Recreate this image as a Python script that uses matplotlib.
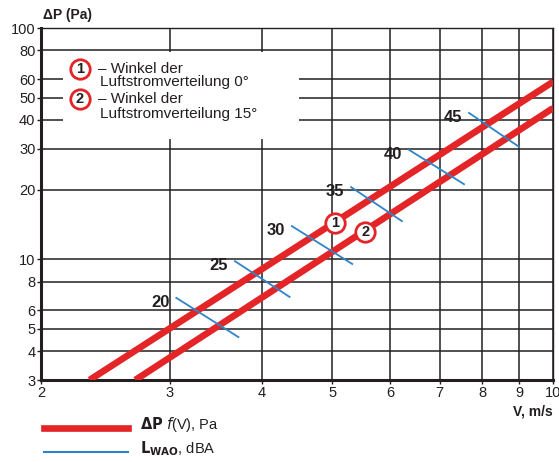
import numpy as np
import matplotlib.pyplot as plt
from matplotlib.lines import Line2D
from matplotlib.patches import Rectangle

plt.rcParams['font.family'] = ['Liberation Sans', 'DejaVu Sans']

# pressure drop curves (V in m/s, dP in Pa)
v_curve1 = [2.33, 10.0]
dp_curve1 = [3.0, 58.5]
v_curve2 = [2.69, 10.0]
dp_curve2 = [3.0, 45.0]

# sound level isolines L_WAO (dBA)
lw_labels = ['20', '25', '30', '35', '40', '45']
lw_v_start = [3.06, 3.68, 4.40, 5.30, 6.36, 7.68]
lw_dp_start = [6.8, 9.8, 13.9, 20.5, 29.7, 42.9]
lw_v_end = [3.72, 4.37, 5.32, 6.22, 7.56, 8.99]
lw_dp_end = [4.6, 6.86, 9.53, 14.6, 21.1, 30.6]

# curve markers
mark_labels = ['1', '2']
mark_v = [5.04, 5.54]
mark_dp = [14.3, 13.1]

xticks = [2, 3, 4, 5, 6, 7, 8, 9, 10]
yticks = [3, 4, 5, 6, 8, 10, 20, 30, 40, 50, 60, 80, 100]

red = '#e42528'
blue = '#2f84c6'
dark = '#231f20'

fig = plt.figure(figsize=(5.59, 4.62), dpi=100)
ax = fig.add_axes([41/559, 82/462, 512/559, 352/462])
ax.set_xscale('log')
ax.set_yscale('log')
ax.set_xlim(2, 10)
ax.set_ylim(3, 100)
ax.set_xticks(xticks)
ax.set_xticklabels([str(t) for t in xticks])
ax.set_yticks(yticks)
ax.set_yticklabels([str(t) for t in yticks])
ax.minorticks_off()
ax.tick_params(axis='both', labelsize=10.5, length=3, width=1, color=dark,
               labelcolor=dark, pad=1)
ax.grid(True, color=dark, lw=1.1)
ax.set_axisbelow(True)
for s in ['top', 'right']:
    ax.spines[s].set_linewidth(1.0)
    ax.spines[s].set_color(dark)
for s in ['left', 'bottom']:
    ax.spines[s].set_linewidth(2.2)
    ax.spines[s].set_color(dark)

# white box behind the curve description
ax.add_patch(Rectangle((2.14, 33.1), 4.5 - 2.14, 78.7 - 33.1, facecolor='white',
                       edgecolor='none', zorder=1))

ax.plot(v_curve1, dp_curve1, color=red, lw=4.8, solid_capstyle='butt', zorder=3)
ax.plot(v_curve2, dp_curve2, color=red, lw=4.8, solid_capstyle='butt', zorder=3)

for lab, x0, y0, x1, y1 in zip(lw_labels, lw_v_start, lw_dp_start, lw_v_end, lw_dp_end):
    ax.plot([x0, x1], [y0, y1], color=blue, lw=1.3, zorder=4)
    ax.annotate(lab, (x0, y0), xytext=(-5, -3), textcoords='offset points',
                ha='right', va='center', fontsize=12, fontweight='bold', color=dark, zorder=5)

for lab, x, y in zip(mark_labels, mark_v, mark_dp):
    ax.plot(x, y, 'o', ms=14, mfc='white', mec=red, mew=2, zorder=6)
    ax.text(x, y, lab, ha='center', va='center', fontsize=10.5, fontweight='bold',
            color=dark, zorder=7)

# curve description
desc = [('1', 0.8835, 0.8466, '0°'), ('2', 0.798, 0.7557, '15°')]
for lab, ya, yb, ang in desc:
    ax.plot(0.0762, ya, 'o', ms=14, mfc='white', mec=red, mew=2,
            transform=ax.transAxes, zorder=6)
    ax.text(0.0762, ya, lab, ha='center', va='center', fontsize=10.5, fontweight='bold',
            color=dark, transform=ax.transAxes, zorder=7)
    ax.text(0.111, ya, '– Winkel der', ha='left', va='center', fontsize=11,
            color=dark, transform=ax.transAxes, zorder=7)
    ax.text(0.115, yb, 'Luftstromverteilung ' + ang, ha='left', va='center', fontsize=11,
            color=dark, transform=ax.transAxes, zorder=7)

fig.text(43/559, 1 - 15/462, 'ΔP (Pa)', ha='left', va='center', fontsize=10,
         fontweight='bold', color=dark)
fig.text(553/559, 1 - 412/462, 'V, m/s', ha='right', va='center', fontsize=10,
         fontweight='bold', color=dark)

# legend below the chart
fig.add_artist(Line2D([44/559, 128/559], [1 - 428/462, 1 - 428/462], color=red, lw=4.8,
                      transform=fig.transFigure))
fig.add_artist(Line2D([44/559, 128/559], [1 - 452/462, 1 - 452/462], color=blue, lw=1.5,
                      transform=fig.transFigure))
fig.text(140/559, 1 - 425/462, r'$\mathbf{\Delta P}$ $\mathit{f}$(V), Pa', ha='left',
         va='center', fontsize=10.5, color=dark)
fig.text(140/559, 1 - 449/462, r'$\mathbf{L_{WAO}}$, dBA', ha='left', va='center',
         fontsize=10.5, color=dark)

fig.savefig('out.png', dpi=100)
